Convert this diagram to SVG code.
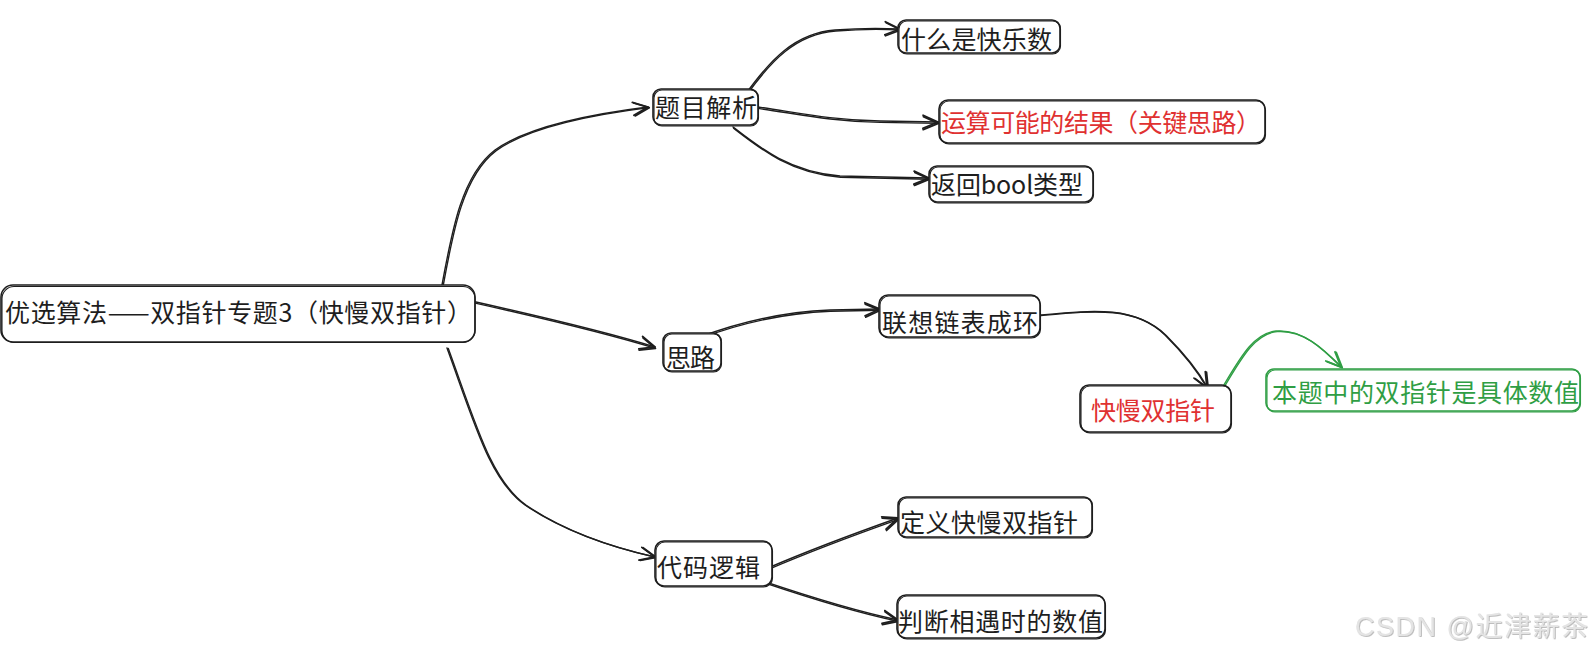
<svg xmlns="http://www.w3.org/2000/svg" xmlns:xlink="http://www.w3.org/1999/xlink" width="1594" height="658" viewBox="0 0 1594 658">
<style>
.box{fill:#ffffff;stroke:#1e1e1e;stroke-width:1.6}
.box2{fill:none;stroke:#1e1e1e;stroke-width:1.1}
.gbox{fill:#ffffff;stroke:#2f9e44;stroke-width:1.6}
.gbox2{fill:none;stroke:#2f9e44;stroke-width:1.1}
.t{font-family:"Noto Sans CJK SC","Noto Sans",sans-serif;font-size:25px;fill:#1e1e1e}
.red{fill:#e03131}
.green{fill:#2f9e44}
.c{fill:none;stroke:#1e1e1e;stroke-width:1.4;stroke-linecap:round;marker-end:url(#arr)}
.cg{fill:none;stroke:#2f9e44;stroke-width:1.4;stroke-linecap:round;marker-end:url(#arrg)}
.wm{font-family:"Liberation Sans","Noto Sans CJK SC",sans-serif;font-size:27px;fill:#e4e4e4}
</style>
<defs>
<marker id="arr" viewBox="-16 -9 18 18" markerWidth="18" markerHeight="18" refX="0" refY="0" orient="auto" markerUnits="userSpaceOnUse">
<path d="M-15,-6.5 L0,0 L-15,6.5" fill="none" stroke="#1e1e1e" stroke-width="1.8" stroke-linecap="round" stroke-linejoin="round"/>
</marker>
<marker id="arrg" viewBox="-16 -9 18 18" markerWidth="18" markerHeight="18" refX="0" refY="0" orient="auto" markerUnits="userSpaceOnUse">
<path d="M-15,-6.5 L0,0 L-15,6.5" fill="none" stroke="#2f9e44" stroke-width="1.8" stroke-linecap="round" stroke-linejoin="round"/>
</marker>
<filter id="sh" x="-5%" y="-20%" width="110%" height="140%">
<feDropShadow dx="0.8" dy="0.8" stdDeviation="0.6" flood-color="#9a9a9a" flood-opacity="0.8"/>
</filter>
</defs>
<rect width="1594" height="658" fill="#ffffff"/>

<g id="connectors">
<path id="c1" class="c" d="M442 285 C 452 230, 462 175, 495 150 C 530 125, 600 113, 648 107"/>
<path id="c2" class="c" d="M467 300 C 530 314, 600 330, 655 347"/>
<path id="c3" class="c" d="M447 348 C 475 425, 490 480, 525 505 C 565 532, 615 548, 655 557"/>
<path id="c4" class="c" d="M745 95 C 770 60, 795 33, 835 30 C 860 28, 880 28, 900 29"/>
<path id="c5" class="c" d="M758 107 C 800 113, 830 120, 880 121 L 938 122"/>
<path id="c6" class="c" d="M733 127 C 760 148, 790 172, 840 176 L 929 178"/>
<path id="c7" class="c" d="M700 337 C 740 322, 780 312, 830 310 L 880 309"/>
<path id="c8" class="c" d="M1040 315 C 1095 310, 1135 306, 1165 335 C 1185 355, 1198 372, 1207 388"/>
<path id="c9" class="cg" d="M1219 393 C 1238 362, 1252 333, 1276 331 C 1302 329, 1322 348, 1341 367"/>
<path id="c10" class="c" d="M768 568 C 810 550, 850 535, 898 518"/>
<path id="c11" class="c" d="M745 575 C 800 594, 850 610, 898 620"/>
<use xlink:href="#c1" transform="translate(1.2,0.6)"/>
<use xlink:href="#c2" transform="translate(0.4,1.4)"/>
<use xlink:href="#c3" transform="translate(1.3,0.4)"/>
<use xlink:href="#c4" transform="translate(0.8,1.0)"/>
<use xlink:href="#c5" transform="translate(0.3,1.4)"/>
<use xlink:href="#c6" transform="translate(0.6,1.2)"/>
<use xlink:href="#c7" transform="translate(0.4,1.3)"/>
<use xlink:href="#c8" transform="translate(1.2,0.5)"/>
<use xlink:href="#c9" transform="translate(1.2,0.6)"/>
<use xlink:href="#c10" transform="translate(0.5,1.3)"/>
<use xlink:href="#c11" transform="translate(0.4,1.3)"/>
</g>

<g id="root">
<rect class="box" x="1" y="285" width="474" height="57" rx="12"/>
<rect class="box2" x="2" y="286.5" width="473" height="56" rx="12"/>
<text class="t" x="5" y="322" textLength="467">优选算法——双指针专题3（快慢双指针）</text>
</g>

<g id="n-timu">
<rect class="box" x="653" y="89" width="105" height="36" rx="8"/>
<rect class="box2" x="654" y="90" width="104.5" height="36" rx="8"/>
<text class="t" x="655" y="117" textLength="102">题目解析</text>
</g>

<g id="n-kuaile">
<rect class="box" x="898" y="20" width="162" height="33" rx="8"/>
<rect class="box2" x="899" y="21" width="161.5" height="33" rx="8"/>
<text class="t" x="901" y="49" textLength="151">什么是快乐数</text>
</g>

<g id="n-yunsuan">
<rect class="box" x="939" y="100" width="326" height="43" rx="9"/>
<rect class="box2" x="940" y="101" width="325.5" height="43" rx="9"/>
<text class="t red" x="941" y="132" textLength="320">运算可能的结果（关键思路）</text>
</g>

<g id="n-bool">
<rect class="box" x="929" y="166" width="164" height="36" rx="8"/>
<rect class="box2" x="930" y="167" width="163.5" height="36" rx="8"/>
<text class="t" x="931" y="194" textLength="152">返回bool类型</text>
</g>

<g id="n-silu">
<rect class="box" x="663" y="333" width="58" height="38" rx="8"/>
<rect class="box2" x="664" y="334" width="57.5" height="38" rx="8"/>
<text class="t" x="666" y="367" textLength="49">思路</text>
</g>

<g id="n-lianxiang">
<rect class="box" x="879" y="295" width="161" height="42" rx="9"/>
<rect class="box2" x="880" y="296" width="160.5" height="42" rx="9"/>
<text class="t" x="882" y="332" textLength="156">联想链表成环</text>
</g>

<g id="n-kuaiman">
<rect class="box" x="1080" y="385" width="151" height="47" rx="9"/>
<rect class="box2" x="1081" y="386" width="150.5" height="47" rx="9"/>
<text class="t red" x="1091" y="420" textLength="124">快慢双指针</text>
</g>

<g id="n-benti">
<rect class="gbox" x="1266" y="369" width="314" height="42" rx="8"/>
<rect class="gbox2" x="1267" y="370" width="313.5" height="42" rx="8"/>
<text class="t green" x="1272" y="402" textLength="307">本题中的双指针是具体数值</text>
</g>

<g id="n-daima">
<rect class="box" x="655" y="541" width="117" height="45" rx="9"/>
<rect class="box2" x="656" y="542" width="116.5" height="45" rx="9"/>
<text class="t" x="657" y="577" textLength="103">代码逻辑</text>
</g>

<g id="n-dingyi">
<rect class="box" x="898" y="497" width="194" height="40" rx="8"/>
<rect class="box2" x="899" y="498" width="193.5" height="40" rx="8"/>
<text class="t" x="900" y="532" textLength="178">定义快慢双指针</text>
</g>

<g id="n-panduan">
<rect class="box" x="897" y="595" width="208" height="43" rx="9"/>
<rect class="box2" x="898" y="596" width="207.5" height="43" rx="9"/>
<text class="t" x="898" y="631" textLength="205">判断相遇时的数值</text>
</g>

<text class="wm" x="1355" y="636" textLength="233" filter="url(#sh)">CSDN @近津薪茶</text>
</svg>
